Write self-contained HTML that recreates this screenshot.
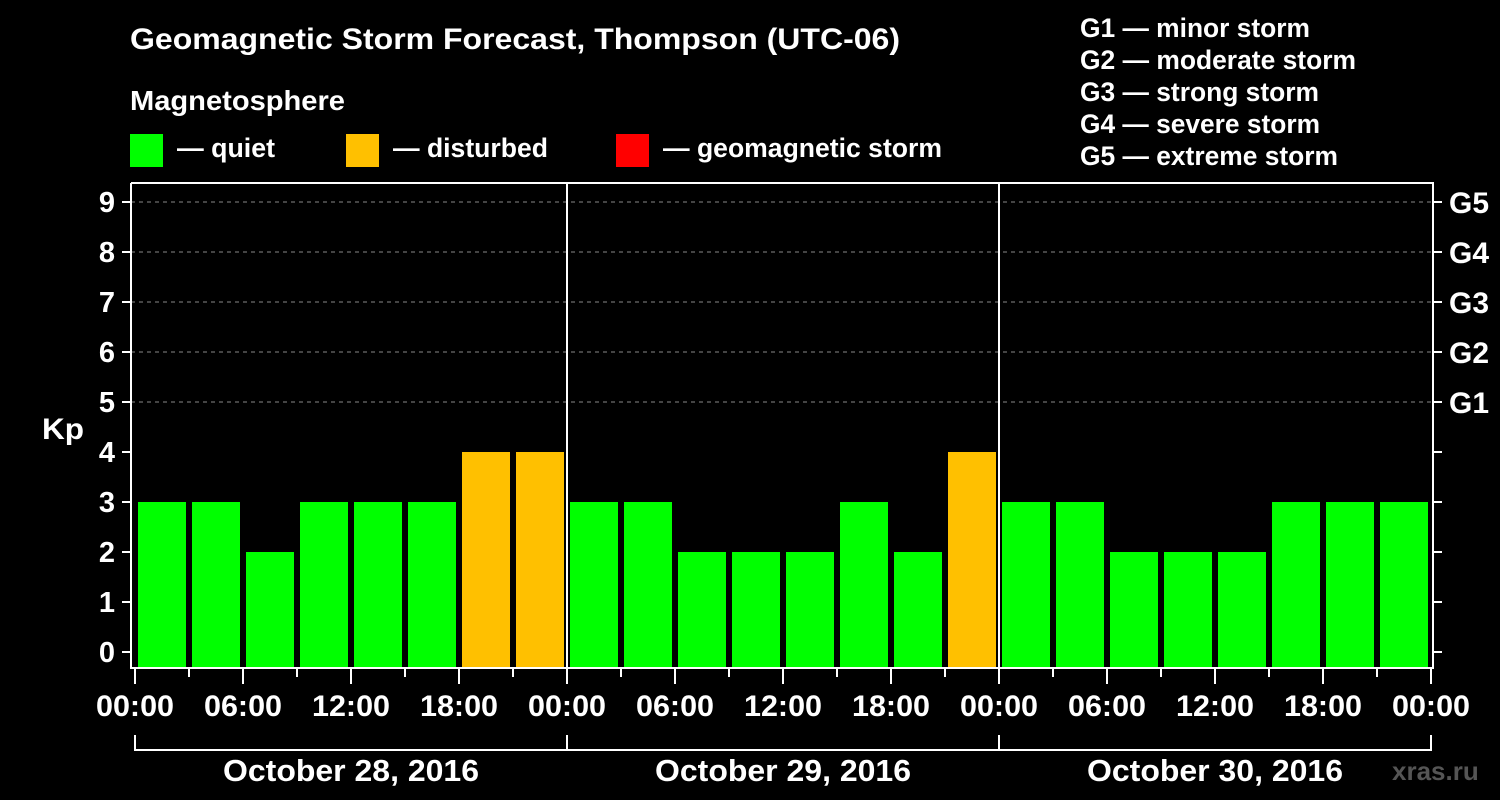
<!DOCTYPE html>
<html><head><meta charset="utf-8"><style>
body{margin:0;background:#000;}
svg{display:block;font-family:"Liberation Sans",Arial,sans-serif;font-weight:bold;}
</style></head><body>
<svg width="1500" height="800" xmlns="http://www.w3.org/2000/svg" id="chart">
<rect width="1500" height="800" fill="#000"/>
<text x="130" y="49" fill="#fff" font-size="30" textLength="770" lengthAdjust="spacingAndGlyphs">Geomagnetic Storm Forecast, Thompson (UTC-06)</text>
<text x="130" y="110" fill="#fff" font-size="28" textLength="215" lengthAdjust="spacingAndGlyphs">Magnetosphere</text>
<g><rect x="130" y="134" width="33" height="33" fill="#00ff00"/><text x="177" y="157" fill="#fff" font-size="27" textLength="98" lengthAdjust="spacingAndGlyphs">— quiet</text></g>
<g><rect x="346" y="134" width="33" height="33" fill="#ffc000"/><text x="393" y="157" fill="#fff" font-size="27" textLength="155" lengthAdjust="spacingAndGlyphs">— disturbed</text></g>
<g><rect x="616" y="134" width="33" height="33" fill="#ff0000"/><text x="663" y="157" fill="#fff" font-size="27" textLength="279" lengthAdjust="spacingAndGlyphs">— geomagnetic storm</text></g>
<g fill="#fff" font-size="27">
<text x="1080" y="37" textLength="230" lengthAdjust="spacingAndGlyphs">G1 — minor storm</text><text x="1080" y="69" textLength="276" lengthAdjust="spacingAndGlyphs">G2 — moderate storm</text><text x="1080" y="101" textLength="239" lengthAdjust="spacingAndGlyphs">G3 — strong storm</text><text x="1080" y="133" textLength="240" lengthAdjust="spacingAndGlyphs">G4 — severe storm</text><text x="1080" y="165" textLength="258" lengthAdjust="spacingAndGlyphs">G5 — extreme storm</text></g>
<text x="42" y="439" fill="#fff" font-size="30" textLength="42" lengthAdjust="spacingAndGlyphs">Kp</text>
<text x="1392" y="780" fill="#555" font-size="26">xras.ru</text>
<g id="plot"></g>
</svg>
<script>
const values = [3,3,2,3,3,3,4,4, 3,3,2,2,2,3,2,4, 3,3,2,2,2,3,3,3];
const dayLabels = ["October 28, 2016","October 29, 2016","October 30, 2016"];
const yTicks = [0,1,2,3,4,5,6,7,8,9];
const gLabels = ["G1","G2","G3","G4","G5"];
const hourLabels = ["00:00","06:00","12:00","18:00"];
const ns="http://www.w3.org/2000/svg", g=document.getElementById('plot');
function y(v){return 652-50*v;}
function x(h){return 135+18*h;}
function el(t,a,p){const e=document.createElementNS(ns,t);for(const k in a)e.setAttribute(k,a[k]);(p||g).appendChild(e);return e;}
for(let v=5;v<=9;v++){const l=el('line',{x1:131,x2:1433,y1:y(v),y2:y(v),stroke:'#888','stroke-dasharray':'4,4','stroke-width':1});

}
values.forEach((v,i)=>{const c=v>=5?'#ff0000':v>=4?'#ffc000':'#00ff00';
const r=el('rect',{x:x(i*3)+3,y:y(v),width:48,height:668-y(v),fill:c});

});
el('polyline',{points:'131,183 1433,183 1433,668 131,668 131,183',fill:'none',stroke:'#fff','stroke-width':2});
for(let d=1;d<3;d++){el('line',{x1:x(d*24),x2:x(d*24),y1:183,y2:668,stroke:'#fff','stroke-width':2});}
yTicks.forEach(v=>{el('line',{x1:122,x2:131,y1:y(v),y2:y(v),stroke:'#fff','stroke-width':2});
el('line',{x1:1433,x2:1442,y1:y(v),y2:y(v),stroke:'#fff','stroke-width':2});
const t=el('text',{x:115,y:y(v)+10,fill:'#fff','font-size':29,'text-anchor':'end'});t.textContent=v;

});
gLabels.forEach((s,i)=>{const t=el('text',{x:1449,y:y(5+i)+11,fill:'#fff','font-size':30});t.textContent=s;

});
for(let h=0;h<=72;h+=3){const major=h%6===0;el('line',{x1:x(h),x2:x(h),y1:668,y2:major?684:677,stroke:'#fff','stroke-width':2});
if(h%6===0){const t=el('text',{x:x(h),y:716,fill:'#fff','font-size':30,'text-anchor':'middle',textLength:78,lengthAdjust:'spacingAndGlyphs'});t.textContent=hourLabels[(h/6)%4];

}}
dayLabels.forEach((s,d)=>{const a=x(d*24),b=x(d*24+24);
el('polyline',{points:`${a},735 ${a},750 ${b},750 ${b},735`,fill:'none',stroke:'#fff','stroke-width':2});
const t=el('text',{x:(a+b)/2,y:781,fill:'#fff','font-size':31,'text-anchor':'middle',textLength:256,lengthAdjust:'spacingAndGlyphs'});t.textContent=s;

});
</script>
</body></html>
